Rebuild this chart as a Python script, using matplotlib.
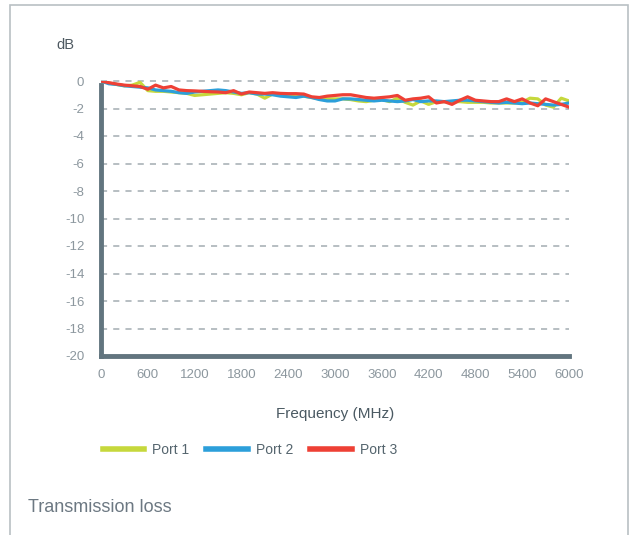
import numpy as np
import matplotlib
matplotlib.use("Agg")
import matplotlib.pyplot as plt
from matplotlib.patches import Rectangle

plt.rcParams['font.family'] = ['Liberation Sans', 'DejaVu Sans']
plt.rcParams['axes.unicode_minus'] = False

freq = np.arange(0, 6001, 100)

port1 = [0.0, -0.15, -0.25, -0.35, -0.3, -0.1, -0.7, -0.75, -0.75, -0.8,
         -0.85, -0.9, -1.05, -1.0, -0.95, -0.9, -0.85, -0.9, -1.0, -0.85,
         -0.95, -1.25, -0.95, -1.0, -1.05, -1.1, -1.1, -1.2, -1.3, -1.3,
         -1.3, -1.3, -1.35, -1.45, -1.5, -1.4, -1.35, -1.5, -1.25, -1.55,
         -1.75, -1.45, -1.7, -1.5, -1.5, -1.5, -1.5, -1.55, -1.55, -1.55,
         -1.6, -1.6, -1.6, -1.6, -1.55, -1.25, -1.3, -1.75, -1.9, -1.25,
         -1.45]
port2 = [0.0, -0.2, -0.25, -0.35, -0.4, -0.45, -0.5, -0.65, -0.7, -0.75,
         -0.85, -0.9, -0.8, -0.75, -0.7, -0.65, -0.7, -0.8, -0.9, -0.85,
         -0.95, -0.95, -1.0, -1.1, -1.15, -1.2, -1.1, -1.2, -1.35, -1.45,
         -1.45, -1.3, -1.3, -1.35, -1.4, -1.45, -1.4, -1.45, -1.5, -1.45,
         -1.35, -1.5, -1.45, -1.45, -1.5, -1.45, -1.4, -1.4, -1.45, -1.5,
         -1.55, -1.6, -1.55, -1.6, -1.65, -1.6, -1.65, -1.7, -1.75, -1.7,
         -1.6]
port3 = [0.0, -0.12, -0.22, -0.3, -0.35, -0.4, -0.6, -0.3, -0.5, -0.4,
         -0.65, -0.7, -0.72, -0.75, -0.78, -0.8, -0.85, -0.7, -0.95, -0.8,
         -0.85, -0.9, -0.85, -0.9, -0.92, -0.92, -0.95, -1.15, -1.2, -1.1,
         -1.05, -1.0, -1.0, -1.1, -1.2, -1.25, -1.2, -1.15, -1.05, -1.4,
         -1.3, -1.25, -1.15, -1.6, -1.5, -1.7, -1.4, -1.15, -1.4, -1.45,
         -1.5, -1.5, -1.3, -1.5, -1.3, -1.6, -1.8, -1.3, -1.5, -1.7,
         -1.9]

xticks = [0, 600, 1200, 1800, 2400, 3000, 3600, 4200, 4800, 5400, 6000]
yticks = [0, -2, -4, -6, -8, -10, -12, -14, -16, -18, -20]

fig = plt.figure(figsize=(6.4, 5.35), dpi=100)
fig.patches.append(Rectangle((10 / 640, -0.1), 618 / 640, 1 - 5 / 535 + 0.1,
                             transform=fig.transFigure, fill=False,
                             edgecolor='#b9c0c4', linewidth=1.2))

ax = fig.add_axes([101 / 640, 1 - 356 / 535, 468 / 640, 275 / 535])
ax.plot(freq, port1, color='#c6d83c', lw=2.3, label='Port 1', zorder=3)
ax.plot(freq, port2, color='#2c9fda', lw=2.3, label='Port 2', zorder=3)
ax.plot(freq, port3, color='#ee4035', lw=2.3, label='Port 3', zorder=4)

ax.set_xlim(0, 6000)
ax.set_ylim(-20, 0)
ax.set_xticks(xticks)
ax.set_yticks(yticks)
ax.tick_params(axis='y', length=0, labelsize=9.5, labelcolor='#8c979e', pad=12)
ax.tick_params(axis='x', length=0, labelsize=9.5, labelcolor='#8c979e', pad=9)

for y in yticks[:-1]:
    ax.plot([0, 6000], [y, y], color='#a3acb2', lw=1.1, ls=(0, (4, 4)),
            clip_on=False, zorder=1)

for s in ['top', 'right']:
    ax.spines[s].set_visible(False)
for s in ['left', 'bottom']:
    ax.spines[s].set_color('#62757f')
    ax.spines[s].set_linewidth(3.5)
ax.spines['left'].set_bounds(-20, -0.3)

fig.text(56 / 640, 1 - 45 / 535, 'dB', fontsize=10.5, color='#4d5860',
         va='center')
ax.set_xlabel('Frequency (MHz)', fontsize=11, color='#4a5962', labelpad=19)

handles, labels = ax.get_legend_handles_labels()
leg = fig.legend(handles, labels, loc='center left',
                 bbox_to_anchor=(90 / 640, 1 - 450 / 535), ncol=3,
                 frameon=False, fontsize=10, handlelength=3.0,
                 handletextpad=0.6, columnspacing=1.2, labelcolor='#55656e')
for line in leg.get_lines():
    line.set_linewidth(4)

fig.text(28 / 640, 1 - 508 / 535, 'Transmission loss', fontsize=13,
         color='#6c7882', va='center')

fig.savefig('out.png', dpi=100)
